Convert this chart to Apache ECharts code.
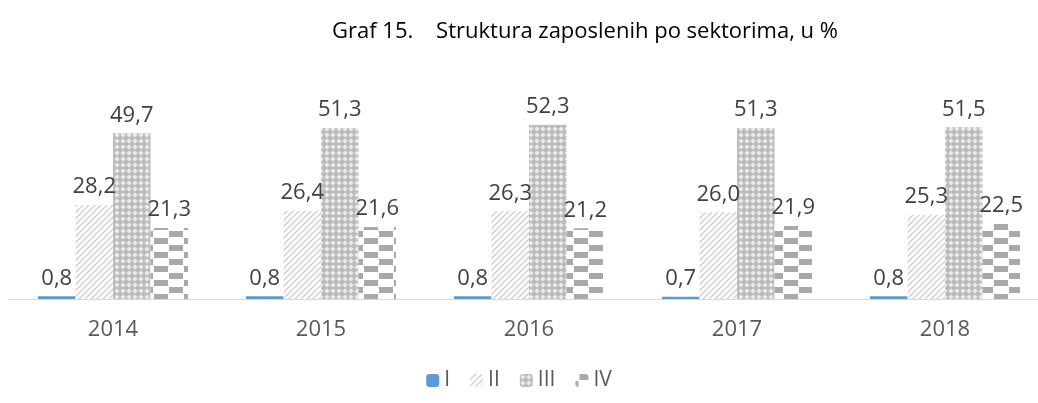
<!DOCTYPE html>
<html>
<head>
<meta charset="utf-8">
<script src="https://cdn.jsdelivr.net/npm/echarts@6/dist/echarts.min.js"></script>
<style>
  body { margin: 0; background: #fff; }
  #chart { width: 1038px; height: 403px; }
</style>
</head>
<body>
<div id="chart"></div>
<script>
var years = ['2014', '2015', '2016', '2017', '2018'];
var sectorI = [0.8, 0.8, 0.8, 0.7, 0.8];
var sectorII = [28.2, 26.4, 26.3, 26.0, 25.3];
var sectorIII = [49.7, 51.3, 52.3, 51.3, 51.5];
var sectorIV = [21.3, 21.6, 21.2, 21.9, 22.5];

function makePattern(w, h, draw) {
  var c = document.createElement('canvas');
  c.width = w; c.height = h;
  var ctx = c.getContext('2d');
  ctx.fillStyle = '#fff';
  ctx.fillRect(0, 0, w, h);
  draw(ctx);
  return {image: c, repeat: 'repeat'};
}

// II: light diagonal stripes
var patII = makePattern(6, 6, function (ctx) {
  ctx.strokeStyle = '#cfcfcf';
  ctx.lineWidth = 1.3;
  ctx.beginPath();
  ctx.moveTo(0, 6); ctx.lineTo(6, 0);
  ctx.moveTo(-3, 3); ctx.lineTo(3, -3);
  ctx.moveTo(3, 9); ctx.lineTo(9, 3);
  ctx.stroke();
});

// III: crosshatch diamonds
var patIII = makePattern(6, 6, function (ctx) {
  ctx.fillStyle = '#bcbcbc';
  ctx.fillRect(0, 0, 6, 6);
  ctx.fillStyle = '#ececec';
  ctx.beginPath();
  ctx.moveTo(3, 0.5); ctx.lineTo(5.5, 3); ctx.lineTo(3, 5.5); ctx.lineTo(0.5, 3);
  ctx.closePath();
  ctx.fill();
});

// IV: large checker blocks
var patIV = makePattern(30, 14, function (ctx) {
  ctx.fillStyle = '#a9a9a9';
  ctx.fillRect(4, 0, 14, 6);
  ctx.fillRect(19, 7, 11, 6);
  ctx.fillRect(0, 7, 3, 6);
});

var labelStyle = {
  show: true,
  position: 'top',
  distance: 7,
  fontFamily: 'Open Sans',
  fontSize: 22,
  color: '#404040',
  formatter: function (p) { return p.value.toFixed(1).replace('.', ','); }
};

function barSeries(name, data, color) {
  return {
    name: name,
    type: 'bar',
    data: data,
    barWidth: 37.5,
    barGap: '0%',
    itemStyle: {color: color},
    label: labelStyle
  };
}

var chart = echarts.init(document.getElementById('chart'));
chart.setOption({
  animation: false,
  title: {
    text: 'Graf 15.    Struktura zaposlenih po sektorima, u %',
    left: 580,
    textAlign: 'center',
    top: 16,
    textStyle: {fontFamily: 'Open Sans', fontSize: 22, fontWeight: 'normal', color: '#000'}
  },
  legend: {
    bottom: 7,
    left: 'center',
    itemWidth: 13,
    itemHeight: 13,
    itemGap: 20,
    textStyle: {fontFamily: 'Open Sans', fontSize: 21, color: '#595959'},
    data: ['I', 'II', 'III', 'IV']
  },
  grid: {left: 9, width: 1040, top: 99, height: 200, outerBoundsMode: 'none', containLabel: false},
  xAxis: {
    type: 'category',
    data: years,
    axisLine: {lineStyle: {color: '#d9d9d9', width: 1}},
    axisTick: {show: false},
    axisLabel: {fontFamily: 'Open Sans', fontSize: 22, color: '#595959', margin: 20}
  },
  yAxis: {
    type: 'value',
    min: 0,
    max: 60,
    show: false
  },
  series: [
    barSeries('I', sectorI, '#5b9bd5'),
    barSeries('II', sectorII, patII),
    barSeries('III', sectorIII, patIII),
    barSeries('IV', sectorIV, patIV)
  ]
});
</script>
</body>
</html>
